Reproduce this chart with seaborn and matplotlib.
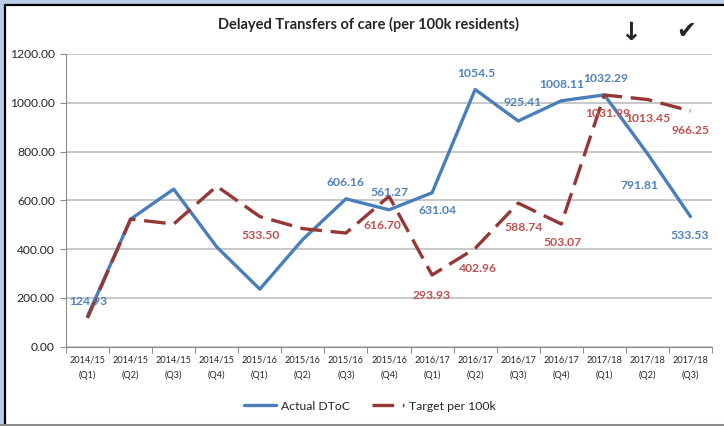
import numpy as np
import pandas as pd
import matplotlib
matplotlib.use('Agg')
import matplotlib.pyplot as plt
from matplotlib.patches import Rectangle
from matplotlib.lines import Line2D
import seaborn as sns

sns.set_style('white')
plt.rcParams['font.family'] = ['Lato', 'DejaVu Sans']

# Data
years = ['2014/15'] * 4 + ['2015/16'] * 4 + ['2016/17'] * 4 + ['2017/18'] * 3
quarters = ['Q1', 'Q2', 'Q3', 'Q4'] * 3 + ['Q1', 'Q2', 'Q3']
actual = [124.93, 523, 646, 409, 236, 440, 606.16, 561.27, 631.04, 1054.5,
          925.41, 1008.11, 1032.29, 791.81, 533.53]
target = [118, 523, 503, 658, 533.50, 484, 466, 616.70, 293.93, 402.96,
          588.74, 503.07, 1031.99, 1013.45, 966.25]
# which points carry a data label
actual_labelled = [1, 0, 0, 0, 0, 0, 1, 1, 1, 1, 1, 1, 1, 1, 1]
target_labelled = [0, 0, 0, 0, 1, 0, 0, 1, 1, 1, 1, 1, 1, 1, 1]
actual_text = ['124.93', '', '', '', '', '', '606.16', '561.27', '631.04', '1054.5',
               '925.41', '1008.11', '1032.29', '791.81', '533.53']
target_text = ['', '', '', '', '533.50', '', '', '616.70', '293.93', '402.96',
               '588.74', '503.07', '1031.99', '1013.45', '966.25']

# label offsets in pixels (dx, dy), y down
actual_off = [(1, -15), None, None, None, None, None, (0, -16), (0, -17), (5, 18),
              (1, -16), (4, -18), (0, -16), (1, -16), (-8, 32), (-1, 19)]
target_off = [None, None, None, None, (1, 19), None, None, (-7, 29), (0, 20),
              (3, 20), (5, 24), (1, 19), (3, 19), (0, 19), (0, 19)]

df = pd.DataFrame({'pos': np.arange(len(actual)), 'Actual DToC': actual,
                   'Target per 100k': target})

blue = '#4a7ebb'
red = '#953735'
blue_lbl = '#4f81bd'
red_lbl = '#c0504d'

fig = plt.figure(figsize=(7.24, 4.26), dpi=100)
W, H = 724, 426
ax = fig.add_axes([66 / W, 1 - 346.7 / H, (712 - 66) / W, (346.7 - 54) / H])

sns.lineplot(data=df, x='pos', y='Actual DToC', ax=ax, color=blue, lw=2.4,
             label='Actual DToC', zorder=3)
sns.lineplot(data=df, x='pos', y='Target per 100k', ax=ax, color=red, lw=2.4,
             dashes=(6.5, 2.6), label='Target per 100k', zorder=3)

ax.set_xlim(-0.5, len(actual) - 0.5)
ax.set_ylim(0, 1200)
ax.set_yticks(np.arange(0, 1201, 200))
ax.set_yticklabels([f'{v:.2f}' for v in np.arange(0, 1201, 200)], fontsize=8.7)
ax.yaxis.grid(True, color='#bfbfbf', lw=1.2)
ax.set_axisbelow(True)

ax.set_xticks(np.arange(len(actual)))
ax.set_xticklabels([f'{y}\n({q})' for y, q in zip(years, quarters)],
                   fontsize=6.6, linespacing=1.9)
ax.set_xticks(np.arange(-0.5, len(actual)), minor=True)
ax.tick_params(axis='x', which='major', length=0, pad=6)
ax.tick_params(axis='x', which='minor', length=4, color='#8c8c8c', width=0.8,
               direction='out', bottom=True)
ax.tick_params(axis='y', length=4, color='#8c8c8c', width=0.8, left=True,
               direction='out', pad=4)
ax.set_xlabel('')
ax.set_ylabel('')
for s in ['top', 'right']:
    ax.spines[s].set_visible(False)
for s in ['left', 'bottom']:
    ax.spines[s].set_color('#8c8c8c')
    ax.spines[s].set_linewidth(0.8)

for i in range(len(actual)):
    if actual_labelled[i]:
        dx, dy = actual_off[i]
        ax.annotate(actual_text[i], (i, actual[i]), xytext=(dx, -dy),
                    textcoords='offset pixels', ha='center', va='center',
                    color=blue_lbl, fontsize=8.7, fontweight='bold', zorder=5)
    if target_labelled[i]:
        dx, dy = target_off[i]
        ax.annotate(target_text[i], (i, target[i]), xytext=(dx, -dy),
                    textcoords='offset pixels', ha='center', va='center',
                    color=red_lbl, fontsize=8.7, fontweight='bold', zorder=5)

ax.legend_.remove()
h, l = ax.get_legend_handles_labels()
fig.legend(h, l, loc='center', bbox_to_anchor=(370 / W, 1 - 406 / H), ncol=2,
           frameon=False, fontsize=8.8, handlelength=2.6, columnspacing=1.8,
           handletextpad=0.4)

fig.text(369 / W, 1 - 24 / H, 'Delayed Transfers of care (per 100k residents)',
         ha='center', va='center', fontsize=10.5, fontweight='bold')
fig.text(631 / W, 1 - 33 / H, '\u2193', ha='center', va='center', fontsize=18,
         fontweight='bold', family='DejaVu Sans')
fig.text(686 / W, 1 - 31 / H, '\u2714', ha='center', va='center', fontsize=17,
         family='DejaVu Sans')

# window frame
fig.add_artist(Rectangle((0, 1 - 3.5 / H), 1, 3.5 / H, transform=fig.transFigure,
                         color='#b9cde5', lw=0))
fig.add_artist(Rectangle((0, 0), 3.5 / W, 1, transform=fig.transFigure,
                         color='#b9cde5', lw=0))
fig.add_artist(Line2D([4.5 / W, 1], [1 - 4.5 / H, 1 - 4.5 / H],
                      transform=fig.transFigure, color='black', lw=1.6))
fig.add_artist(Line2D([4.5 / W, 4.5 / W], [0, 1 - 4.5 / H],
                      transform=fig.transFigure, color='black', lw=1.6))
fig.add_artist(Line2D([0, 1], [1.5 / H, 1.5 / H],
                      transform=fig.transFigure, color='#8c8c8c', lw=1.5))

fig.savefig('out.png', dpi=100)
